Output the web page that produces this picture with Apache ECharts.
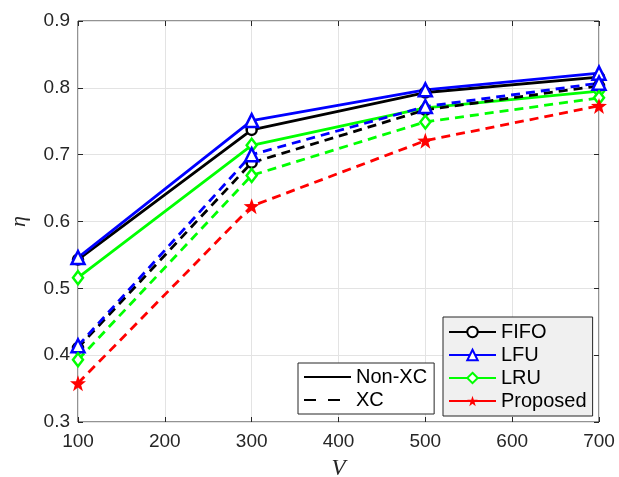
<!DOCTYPE html>
<html>
<head>
<meta charset="utf-8">
<script src="https://cdn.jsdelivr.net/npm/echarts@6/dist/echarts.min.js"></script>
<style>html,body{margin:0;padding:0;background:#fff;}#c{width:619px;height:477px;}</style>
</head>
<body>
<div id="c"></div>
<script>
// ---- data ----
var xValues = [100, 300, 500, 700];
var fifoNonXC = [0.543, 0.737, 0.793, 0.816];
var lfuNonXC  = [0.546, 0.751, 0.797, 0.822];
var lruNonXC  = [0.516, 0.714, 0.770, 0.795];
var fifoXC    = [0.411, 0.688, 0.767, 0.803];
var lfuXC     = [0.414, 0.700, 0.772, 0.807];
var lruXC     = [0.393, 0.669, 0.749, 0.785];
var proposedXC = [0.358, 0.623, 0.721, 0.773];
var methodNames = ['FIFO', 'LFU', 'LRU', 'Proposed'];
var styleNames = ['Non-XC', 'XC'];
var xTicks = [100, 200, 300, 400, 500, 600, 700];
var yTicks = [0.3, 0.4, 0.5, 0.6, 0.7, 0.8, 0.9];

function pairs(ys) { return xValues.map(function (x, i) { return [x, ys[i]]; }); }

var starPath = 'path://M0,-10L2.35,-3.24L9.51,-3.09L3.8,1.24L5.88,8.09L0,4L-5.88,8.09L-3.8,1.24L-9.51,-3.09L-2.35,-3.24Z';
var dash = [9, 6];
var axisColor = '#262626';
var LW = 2.8;

function mk(name, ys, color, symbol, size, dashed) {
  var isStar = symbol === starPath;
  return {
    name: name, type: 'line', data: pairs(ys),
    symbol: symbol, symbolSize: size, showAllSymbol: true,
    color: color,
    lineStyle: { color: color, width: LW, type: dashed ? dash : 'solid' },
    itemStyle: { color: isStar ? color : '#fff', borderColor: color, borderWidth: isStar ? 0 : 2.5 },
    emphasis: { disabled: true }, animation: false, z: 3
  };
}

var series = [
  mk('FIFO', fifoNonXC, '#000000', 'circle', 10, false),
  mk('LFU', lfuNonXC, '#0000ff', 'triangle', 13, false),
  mk('LRU', lruNonXC, '#00ff00', 'diamond', [10, 13], false),
  mk('FIFO', fifoXC, '#000000', 'circle', 10, true),
  mk('LFU', lfuXC, '#0000ff', 'triangle', 13, true),
  mk('LRU', lruXC, '#00ff00', 'diamond', [10, 13], true),
  mk('Proposed', proposedXC, '#ff0000', starPath, 16, true),
  { name: 'Non-XC', type: 'line', data: [], symbol: 'none', symbolSize: 0, color: '#000', lineStyle: { color: '#000', width: LW, type: 'solid' } },
  { name: 'XC', type: 'line', data: [], symbol: 'none', symbolSize: 0, color: '#000', lineStyle: { color: '#000', width: LW, type: dash } }
];

var labelStyle = { color: axisColor, fontSize: 19, fontFamily: 'Liberation Sans, Arial, sans-serif' };
var hiddenItem = { color: 'rgba(0,0,0,0)', borderColor: 'rgba(0,0,0,0)', borderWidth: 0, opacity: 0 };

var option = {
  animation: false,
  backgroundColor: '#fff',
  grid: { left: 78, right: 20, top: 21, bottom: 55, show: true, borderColor: axisColor, borderWidth: 1, backgroundColor: 'transparent', containLabel: false, outerBoundsMode: 'none' },
  xAxis: [{
    type: 'value', min: xTicks[0], max: xTicks[xTicks.length - 1], interval: 100,
    axisLine: { show: false },
    axisTick: { show: true, inside: true, length: 5, lineStyle: { color: axisColor } },
    axisLabel: Object.assign({ margin: 10 }, labelStyle),
    splitLine: { show: true, lineStyle: { color: '#e3e3e3', width: 1 } },
    name: 'V', nameLocation: 'middle', nameGap: 35,
    nameTextStyle: { fontFamily: 'Liberation Serif, DejaVu Serif, serif', fontStyle: 'italic', fontSize: 23, color: axisColor }
  }, {
    type: 'value', position: 'top', min: xTicks[0], max: xTicks[xTicks.length - 1], interval: 100,
    axisLine: { show: false }, axisLabel: { show: false }, splitLine: { show: false },
    axisTick: { show: true, inside: true, length: 5, lineStyle: { color: axisColor } }
  }],
  yAxis: [{
    type: 'value', min: yTicks[0], max: yTicks[yTicks.length - 1], interval: 0.1,
    axisLine: { show: false },
    axisTick: { show: true, inside: true, length: 5, lineStyle: { color: axisColor } },
    axisLabel: Object.assign({ margin: 8, formatter: function (v) { return v.toFixed(1); } }, labelStyle),
    splitLine: { show: true, lineStyle: { color: '#e3e3e3', width: 1 } },
    name: 'η', nameLocation: 'middle', nameGap: 48, nameRotate: 90,
    nameTextStyle: { fontFamily: 'Liberation Serif, DejaVu Serif, serif', fontStyle: 'italic', fontSize: 22, color: axisColor }
  }, {
    type: 'value', position: 'right', min: yTicks[0], max: yTicks[yTicks.length - 1], interval: 0.1,
    axisLine: { show: false }, axisLabel: { show: false }, splitLine: { show: false },
    axisTick: { show: true, inside: true, length: 5, lineStyle: { color: axisColor } }
  }],
  legend: [{
    data: styleNames.map(function (n, i) {
      return i === 1 ? { name: n, lineStyle: { type: [12, 12] }, itemStyle: hiddenItem } : { name: n, itemStyle: hiddenItem };
    }),
    orient: 'vertical', left: 298, top: 363,
    padding: [3, 7, 3, 5], itemGap: 1, itemWidth: 47, itemHeight: 12,
    backgroundColor: '#ffffff', borderColor: axisColor, borderWidth: 1, borderRadius: 0,
    textStyle: { fontSize: 20, lineHeight: 22, color: '#000', fontFamily: 'Liberation Sans, Arial, sans-serif' },
    selectedMode: false
  }, {
    data: methodNames,
    orient: 'vertical', left: 443, top: 317,
    padding: [4, 6, 4, 5], itemGap: 1, itemWidth: 47, itemHeight: 13,
    backgroundColor: '#f0f0f0', borderColor: axisColor, borderWidth: 1, borderRadius: 0,
    lineStyle: { type: 'solid' },
    textStyle: { fontSize: 20, lineHeight: 22, color: '#000', fontFamily: 'Liberation Sans, Arial, sans-serif' },
    selectedMode: false
  }],
  series: series
};

var chart = echarts.init(document.getElementById('c'), null, { renderer: 'canvas' });
chart.setOption(option);
</script>
</body>
</html>
